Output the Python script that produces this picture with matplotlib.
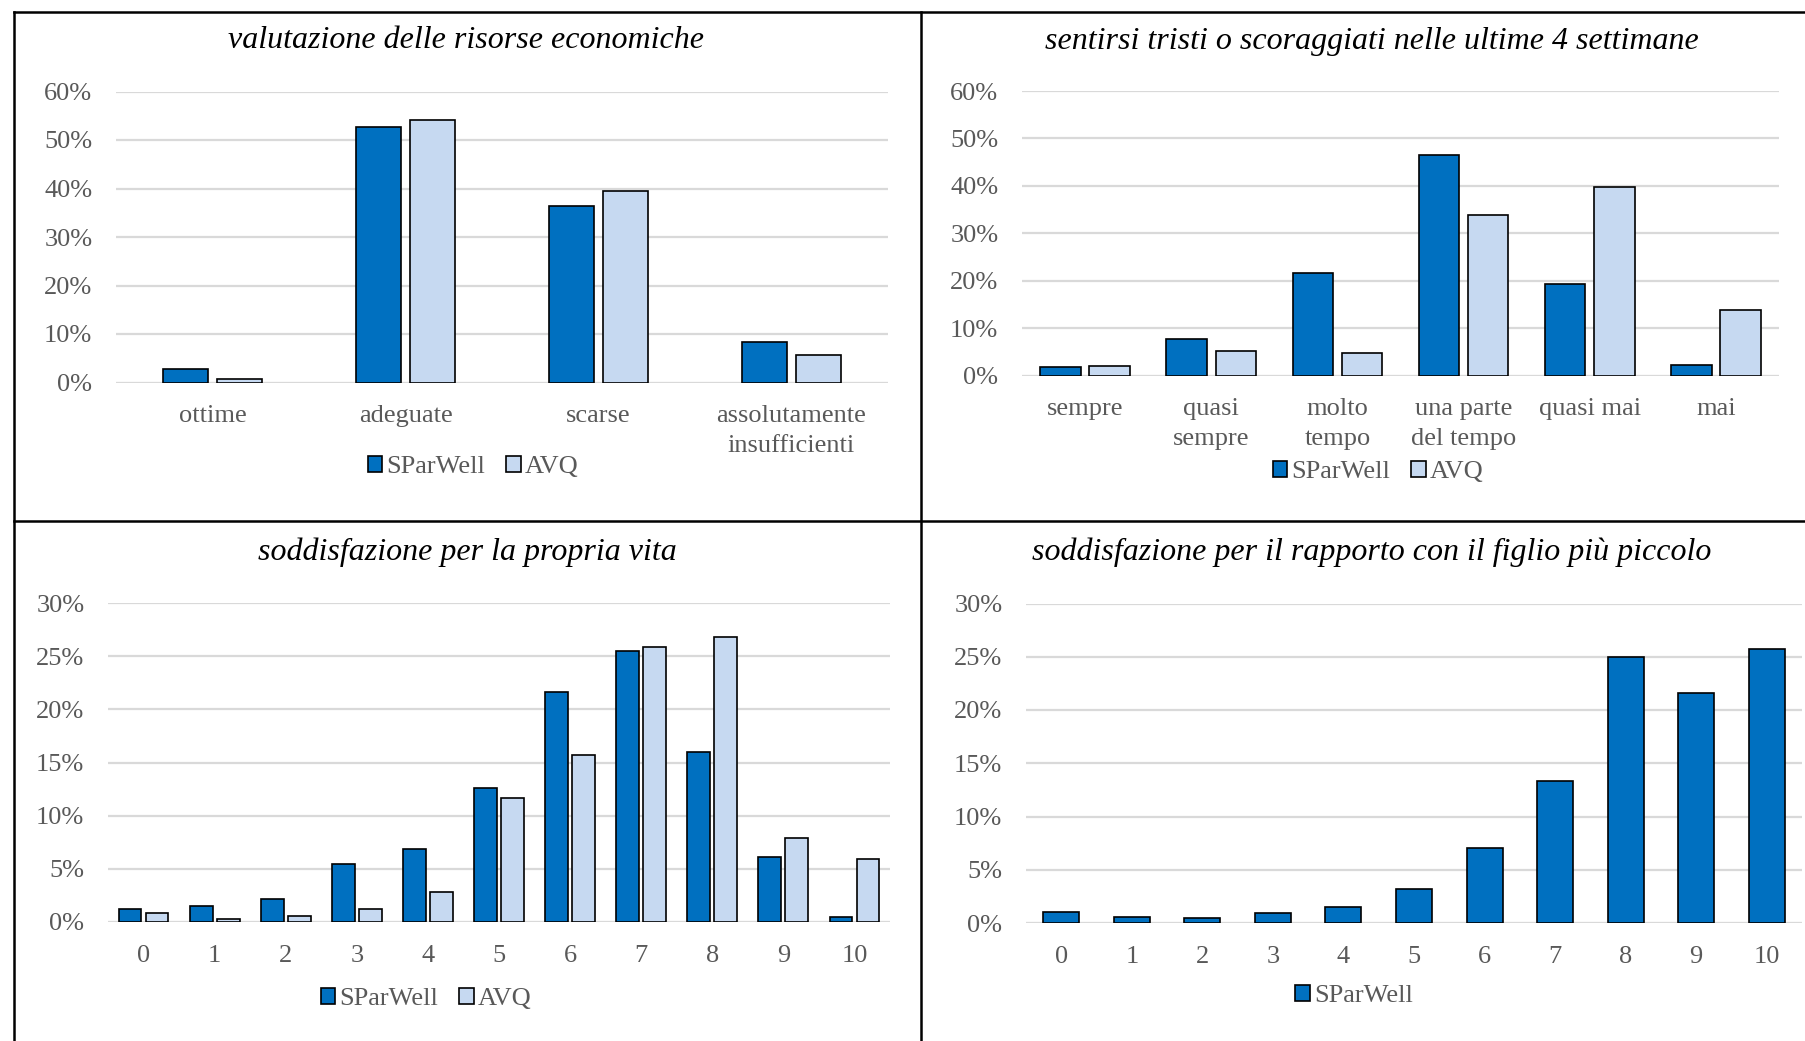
import matplotlib
matplotlib.use("Agg")
import matplotlib.pyplot as plt
from matplotlib.lines import Line2D
from matplotlib.ticker import PercentFormatter
import numpy as np

# Data (percent)
risorse_cat = ["ottime", "adeguate", "scarse", "assolutamente\ninsufficienti"]
risorse_sparwell = [2.8, 52.6, 36.4, 8.4]
risorse_avq = [0.8, 54.1, 39.5, 5.7]

tristi_cat = ["sempre", "quasi\nsempre", "molto\ntempo", "una parte\ndel tempo", "quasi mai", "mai"]
tristi_sparwell = [1.8, 7.7, 21.6, 46.6, 19.3, 2.3]
tristi_avq = [2.1, 5.1, 4.7, 33.8, 39.7, 13.8]

scala_cat = ["0", "1", "2", "3", "4", "5", "6", "7", "8", "9", "10"]
vita_sparwell = [1.2, 1.5, 2.2, 5.5, 6.9, 12.6, 21.6, 25.5, 16.0, 6.1, 0.5]
vita_avq = [0.8, 0.3, 0.6, 1.25, 2.8, 11.7, 15.7, 25.9, 26.8, 7.9, 5.9]

figlio_sparwell = [1.05, 0.6, 0.45, 0.9, 1.5, 3.2, 7.0, 13.3, 25.0, 21.6, 25.7]

titles = ["valutazione delle risorse economiche",
          "sentirsi tristi o scoraggiati nelle ultime 4 settimane",
          "soddisfazione per la propria vita",
          "soddisfazione per il rapporto con il figlio più piccolo"]

DARK = "#0070C0"
LIGHT = "#C6D9F1"
GRID = "#D9D9D9"
TXT = "#595959"
W, H = 1805, 1041

plt.rcParams['font.family'] = ['Liberation Serif', 'DejaVu Serif']
fig = plt.figure(figsize=(W / 100, H / 100), dpi=100)


def px_axes(x0, x1, ytop, ybot):
    return fig.add_axes([x0 / W, 1 - ybot / H, (x1 - x0) / W, (ybot - ytop) / H])


def style(ax, cats, ymax, step):
    ax.set_xlim(-0.5, len(cats) - 0.5)
    ax.set_ylim(0, ymax)
    ax.set_yticks(np.arange(0, ymax + 0.01, step))
    ax.yaxis.set_major_formatter(PercentFormatter(decimals=0))
    ax.set_xticks(range(len(cats)))
    ax.set_xticklabels(cats, linespacing=1.45)
    for s in ax.spines.values():
        s.set_visible(False)
    ax.grid(axis="y", color=GRID, linewidth=1.6)
    ax.set_axisbelow(True)
    ax.tick_params(axis="both", length=0, labelsize=19, labelcolor=TXT)
    ax.tick_params(axis="y", pad=17)
    ax.tick_params(axis="x", pad=16.5)
    ax.axhline(0, color=GRID, linewidth=2.2, zorder=1)
    ax.set_facecolor("none")


def pair_bars(ax, a, b, width, off):
    x = np.arange(len(a))
    ax.bar(x - off, a, width, color=DARK, edgecolor="black", linewidth=1.2, label="SParWell", zorder=3)
    ax.bar(x + off, b, width, color=LIGHT, edgecolor="black", linewidth=1.2, label="AVQ", zorder=3)


def legend(ax, xc, yc):
    ax.legend(loc="center", bbox_to_anchor=(xc / W, 1 - yc / H), bbox_transform=fig.transFigure,
              ncol=2, frameon=False, fontsize=19, labelcolor=TXT, handlelength=0.55,
              handleheight=0.6, handletextpad=0.15, columnspacing=0.8, borderpad=0)


def title(x, y, s):
    fig.text(x / W, 1 - y / H, s, ha="center", va="center", fontsize=23, style="italic")


# top-left
ax1 = px_axes(116, 888, 91.5, 382.5)
pair_bars(ax1, risorse_sparwell, risorse_avq, 0.233, 0.14)
style(ax1, risorse_cat, 60, 10)
legend(ax1, 473, 467)
title(466, 41, titles[0])

# top-right
ax2 = px_axes(1022, 1779, 91, 375.5)
pair_bars(ax2, tristi_sparwell, tristi_avq, 0.32, 0.195)
style(ax2, tristi_cat, 60, 10)
legend(ax2, 1378, 472)
title(1372, 41, titles[1])

# bottom-left
ax3 = px_axes(108, 890, 603, 922)
pair_bars(ax3, vita_sparwell, vita_avq, 0.32, 0.19)
style(ax3, scala_cat, 30, 5)
legend(ax3, 426, 999)
title(467, 552, titles[2])

# bottom-right
ax4 = px_axes(1026, 1802, 603.5, 923)
ax4.bar(np.arange(len(figlio_sparwell)), figlio_sparwell, 0.51, color=DARK, edgecolor="black",
        linewidth=1.2, label="SParWell", zorder=3)
style(ax4, scala_cat, 30, 5)
legend(ax4, 1354, 996)
title(1372, 552, titles[3])

# panel frame lines
for xs, ys in [((14, 14), (12, H)), ((921, 921), (12, H)), ((14, W), (12, 12)), ((14, W), (521, 521))]:
    fig.add_artist(Line2D([x / W for x in xs], [1 - y / H for y in ys], transform=fig.transFigure,
                          color="black", linewidth=1.8))

fig.savefig("out.png", dpi=100)
